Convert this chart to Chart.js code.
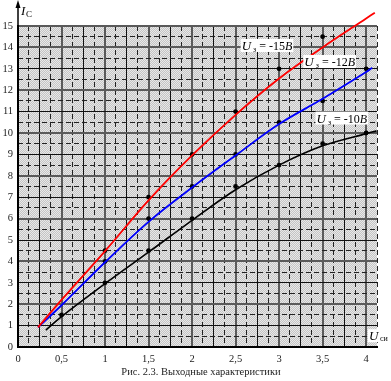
<!DOCTYPE html>
<html lang="ru">
<head>
<meta charset="utf-8">
<title>Выходные характеристики</title>
<script src="https://cdn.jsdelivr.net/npm/chart.js@4/dist/chart.umd.min.js"></script>
<style>
    html, body { margin: 0; padding: 0; background: #fff; }
    canvas { display: block; }
</style>
</head>
<body>
<canvas id="grafica" width="391" height="381"></canvas>
<script>
// Кривые (сглаженные линии)
const curvaX15 = [0.23, 0.5, 1, 1.5, 2, 2.5, 3, 3.5, 4, 4.1];
const curvaY15 = [0.92, 2.2, 4.48, 6.85, 8.95, 10.85, 12.55, 14.0, 15.35, 15.62];
const curvaX12 = [0.23, 0.5, 1, 1.5, 2, 2.5, 3, 3.5, 4, 4.07];
const curvaY12 = [0.92, 1.95, 3.96, 5.85, 7.45, 8.95, 10.42, 11.6, 12.85, 13.05];
const curvaX10 = [0.32, 0.5, 1, 1.5, 2, 2.5, 3, 3.5, 4, 4.12];
const curvaY10 = [0.79, 1.42, 2.96, 4.43, 5.92, 7.35, 8.5, 9.4, 9.97, 10.1];

// Точки измерений
const puntosX15 = [1, 1.5, 2, 2.5, 3, 3.5, 4];
const puntosY15 = [4.5, 7, 9, 11, 13, 14.5, 15.5];
const puntosX12 = [1, 1.5, 2, 2.5, 3, 3.5, 4];
const puntosY12 = [4, 6, 7.5, 9, 10.5, 11.5, 13];
const puntosX10 = [0.5, 1, 1.5, 2, 2.5, 3, 3.5, 4];
const puntosY10 = [1.5, 3, 4.5, 6, 7.5, 8.5, 9.5, 10];

const etiquetasX = ["0", "0,5", "1", "1,5", "2", "2,5", "3", "3,5", "4"];
const etiquetasY = ["0", "1", "2", "3", "4", "5", "6", "7", "8", "9", "10", "11", "12", "13", "14", "15"];
const etiquetasCurvas = ["-15", "-12", "-10"];

const serif = "'Liberation Serif', 'DejaVu Serif', serif";

function pares(xs, ys) {
    return xs.map((x, i) => ({ x: x, y: ys[i] }));
}

function linea(xs, ys, color, ancho) {
    return {
        data: pares(xs, ys),
        showLine: true,
        borderColor: color,
        borderWidth: ancho,
        pointRadius: 0,
        tension: 0.35,
        clip: false,
        fill: false
    };
}

function puntos(xs, ys) {
    return {
        data: pares(xs, ys),
        showLine: false,
        pointRadius: 2.4,
        pointBackgroundColor: "#000",
        pointBorderWidth: 0,
        clip: false
    };
}

const fondo = {
    id: "fondo",
    beforeDraw(chart) {
        const { ctx, chartArea } = chart;
        const p = document.createElement("canvas");
        p.width = 2;
        p.height = 2;
        const pc = p.getContext("2d");
        pc.fillStyle = "#c4c4c4";
        pc.fillRect(0, 0, 2, 2);
        pc.fillStyle = "#e8e8e8";
        pc.fillRect(0, 0, 1, 1);
        pc.fillRect(1, 1, 1, 1);
        ctx.save();
        ctx.fillStyle = ctx.createPattern(p, "repeat");
        ctx.fillRect(chartArea.left, chartArea.top, chartArea.width, chartArea.height);
        ctx.restore();
    }
};

function etiquetaCurva(ctx, x, y, valor) {
    ctx.font = "italic 13px " + serif;
    const wU = ctx.measureText("U").width;
    ctx.font = "8px " + serif;
    const wZ = ctx.measureText("з").width;
    ctx.font = "12px " + serif;
    const texto = " = " + valor;
    const wT = ctx.measureText(texto).width;
    ctx.font = "italic 12px " + serif;
    const wB = ctx.measureText("B").width;
    const total = wU + 2 + wZ + wT + wB;

    ctx.fillStyle = "#fff";
    ctx.fillRect(x - 1, y - 11, total + 2, 13);

    ctx.fillStyle = "#000";
    ctx.textBaseline = "alphabetic";
    ctx.textAlign = "left";
    let cx = x;
    ctx.font = "italic 13px " + serif;
    ctx.fillText("U", cx, y);
    cx += wU + 2;
    ctx.font = "8px " + serif;
    ctx.fillText("з", cx, y + 2);
    cx += wZ;
    ctx.font = "12px " + serif;
    ctx.fillText(texto, cx, y);
    cx += wT;
    ctx.font = "italic 12px " + serif;
    ctx.fillText("B", cx, y);
}

const adornos = {
    id: "adornos",
    afterDraw(chart) {
        const { ctx, chartArea } = chart;
        const sx = chart.scales.x;
        const sy = chart.scales.y;
        ctx.save();

        // Ось Ic
        ctx.strokeStyle = "#000";
        ctx.fillStyle = "#000";
        ctx.lineWidth = 1.5;
        ctx.beginPath();
        ctx.moveTo(chartArea.left, chartArea.top);
        ctx.lineTo(chartArea.left, 4);
        ctx.stroke();
        ctx.beginPath();
        ctx.moveTo(chartArea.left, 0);
        ctx.lineTo(chartArea.left - 2.5, 8);
        ctx.lineTo(chartArea.left + 2.5, 8);
        ctx.closePath();
        ctx.fill();

        ctx.font = "italic 13px " + serif;
        ctx.textAlign = "left";
        ctx.fillText("I", 21, 15);
        ctx.font = "9px " + serif;
        ctx.fillText("C", 26, 17);

        // Ось Uси
        const ya = sy.getPixelForValue(0.55);
        ctx.lineWidth = 1;
        ctx.beginPath();
        ctx.moveTo(chartArea.right, ya);
        ctx.lineTo(384, ya);
        ctx.stroke();
        ctx.beginPath();
        ctx.moveTo(390, ya);
        ctx.lineTo(383, ya - 2.5);
        ctx.lineTo(383, ya + 2.5);
        ctx.closePath();
        ctx.fill();

        ctx.fillStyle = "#fff";
        ctx.fillRect(368, ya - 6, 23, 13);
        ctx.fillStyle = "#000";
        ctx.font = "italic 13px " + serif;
        ctx.fillText("U", 369, ya + 5);
        ctx.font = "8px " + serif;
        ctx.fillText("си", 380, ya + 6);

        // Подписи кривых
        etiquetaCurva(ctx, sx.getPixelForValue(2.57), sy.getPixelForValue(13.88), etiquetasCurvas[0]);
        etiquetaCurva(ctx, sx.getPixelForValue(3.29), sy.getPixelForValue(13.13), etiquetasCurvas[1]);
        etiquetaCurva(ctx, sx.getPixelForValue(3.43), sy.getPixelForValue(10.49), etiquetasCurvas[2]);

        // Подпись рисунка
        ctx.font = "10.5px " + serif;
        ctx.textAlign = "center";
        ctx.textBaseline = "middle";
        ctx.fillStyle = "#222";
        ctx.fillText("Рис. 2.3. Выходные характеристики", 201, 372);

        ctx.restore();
    }
};

const ctx = document.getElementById("grafica");
const grafica = new Chart(ctx, {
    type: "scatter",
    data: {
        datasets: [
            linea(curvaX15, curvaY15, "#ff0000", 1.8),
            linea(curvaX12, curvaY12, "#0000ff", 1.8),
            linea(curvaX10, curvaY10, "#000000", 1.6),
            puntos(puntosX15, puntosY15),
            puntos(puntosX12, puntosY12),
            puntos(puntosX10, puntosY10)
        ]
    },
    options: {
        responsive: false,
        animation: false,
        events: [],
        layout: {
            padding: { top: 26, right: 14, left: 0, bottom: 0 }
        },
        plugins: {
            legend: { display: false },
            tooltip: { enabled: false }
        },
        scales: {
            x: {
                type: "linear",
                position: "bottom",
                min: 0,
                max: 4.125,
                afterFit: (scale) => { scale.height = 34; },
                border: { display: true, color: "#000", width: 2 },
                grid: {
                    drawTicks: false,
                    color: (c) => (c.tick.value % 0.5 === 0 ? "#5a5a5a" : "#111"),
                    lineWidth: (c) => (c.tick.value % 0.5 === 0 ? 2 : 1)
                },
                ticks: {
                    stepSize: 0.25,
                    includeBounds: false,
                    autoSkip: false,
                    maxRotation: 0,
                    padding: 6,
                    color: "#222",
                    font: { family: serif, size: 10.5 },
                    callback: (v) => (v % 0.5 === 0 ? etiquetasX[v / 0.5] || "" : "")
                }
            },
            xd: {
                type: "linear",
                position: "bottom",
                min: 0,
                max: 4.125,
                afterFit: (scale) => { scale.height = 0; },
                border: { display: false, dash: [5, 3] },
                grid: {
                    drawTicks: false,
                    color: (c) => (c.tick.value % 0.25 !== 0 ? "#222" : "rgba(0,0,0,0)"),
                    lineWidth: 1
                },
                ticks: { display: false, stepSize: 0.125, autoSkip: false }
            },
            y: {
                type: "linear",
                position: "left",
                min: 0,
                max: 15,
                afterFit: (scale) => { scale.width = 18; },
                border: { display: true, color: "#000", width: 2 },
                grid: {
                    drawTicks: false,
                    color: (c) => (c.tick.value % 2 === 0 || c.tick.value === 15 ? "#5a5a5a" : "#111"),
                    lineWidth: (c) => (c.tick.value % 2 === 0 || c.tick.value === 15 ? 2 : 1)
                },
                ticks: {
                    stepSize: 1,
                    autoSkip: false,
                    padding: 5,
                    color: "#222",
                    font: { family: serif, size: 10.5 },
                    callback: (v) => etiquetasY[v] || ""
                }
            },
            yd: {
                type: "linear",
                position: "left",
                min: 0,
                max: 15,
                afterFit: (scale) => { scale.width = 0; },
                border: { display: false, dash: [5, 3] },
                grid: {
                    drawTicks: false,
                    color: (c) => (c.tick.value % 1 !== 0 ? "#222" : "rgba(0,0,0,0)"),
                    lineWidth: 1
                },
                ticks: { display: false, stepSize: 0.5, autoSkip: false }
            }
        }
    },
    plugins: [fondo, adornos]
});
</script>
</body>
</html>
